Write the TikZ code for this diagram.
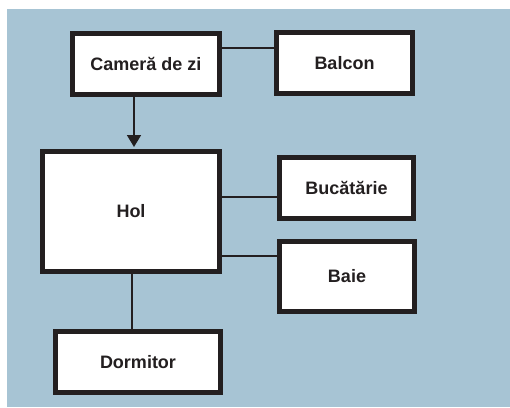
\documentclass[tikz,border=0pt]{standalone}
\usepackage{fontspec}
\setmainfont{Liberation Sans}
\usetikzlibrary{arrows.meta}
\definecolor{bg}{RGB}{167,196,212}
\definecolor{ink}{RGB}{35,31,32}
\begin{document}
\begin{tikzpicture}[x=1pt,y=-1pt,
  room/.style={draw=ink,fill=white,line width=5pt,rectangle,inner sep=0pt,
    font=\fontsize{18}{20}\selectfont\bfseries,text=ink},
  link/.style={draw=ink,line width=1.8pt}]
\useasboundingbox (0,0) rectangle (510,407);
\fill[bg] (7,9) rectangle (510,407);
\node[room,minimum width=147pt,minimum height=61pt] (cam) at (146,64) {Cameră de zi};
\node[room,minimum width=136pt,minimum height=61pt] (bal) at (344.5,63) {Balcon};
\node[room,minimum width=177pt,minimum height=120pt] (hol) at (131,211.5) {Hol};
\node[room,minimum width=134pt,minimum height=61pt] (buc) at (346.5,188) {Bucătărie};
\node[room,minimum width=135pt,minimum height=70pt] (baie) at (347,276.5) {Baie};
\node[room,minimum width=165pt,minimum height=61pt] (dorm) at (138,362) {Dormitor};
\coordinate (y1) at (0,48);
\coordinate (y2) at (0,197);
\coordinate (y3) at (0,256);
\coordinate (x1) at (134,0);
\coordinate (x2) at (132,0);
\draw[link] (cam.east |- y1) -- (bal.west |- y1);
\draw[link,-{Triangle[length=12pt,width=14pt]},shorten >=2pt] (cam.south -| x1) -- (hol.north -| x1);
\draw[link] (hol.east |- y2) -- (buc.west |- y2);
\draw[link] (hol.east |- y3) -- (baie.west |- y3);
\draw[link] (hol.south -| x2) -- (dorm.north -| x2);
\end{tikzpicture}
\end{document}
